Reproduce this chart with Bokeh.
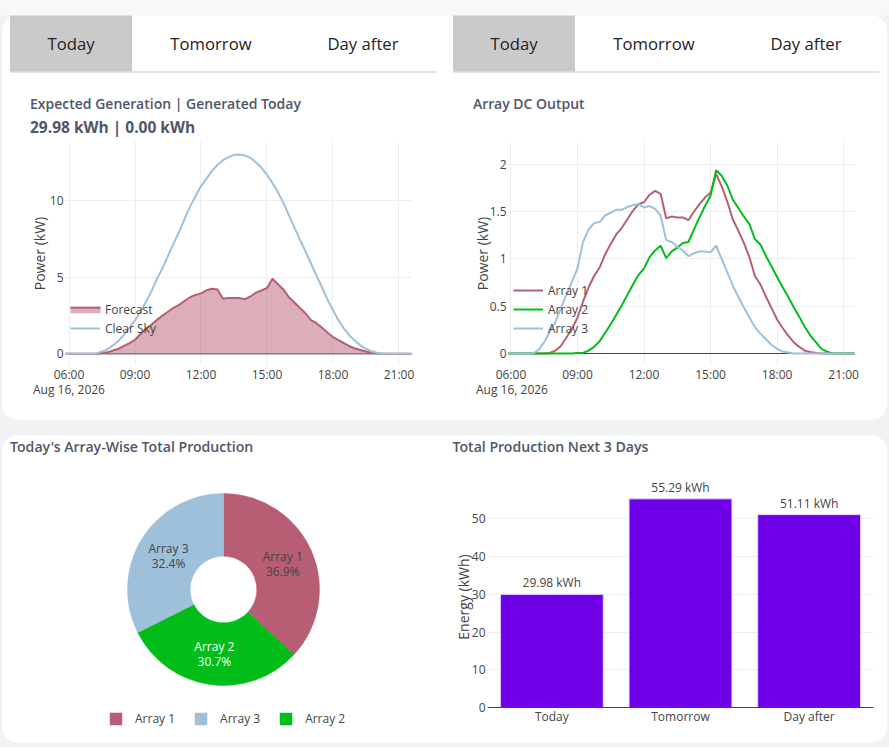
import numpy as np
from bokeh.core.properties import value
from bokeh.embed import file_html
from bokeh.models import (BoxAnnotation, ColumnDataSource, FactorRange, FixedTicker, Label, LabelSet, Legend,
                          LegendItem, Range1d, Span)
from bokeh.plotting import figure
from bokeh.resources import INLINE

# ---- data -----------------------------------------------------------------
START_HOUR = 5.75
STEP_HOUR = 0.25
TIME_TICKS = [6, 9, 12, 15, 18, 21]
TIME_LABELS = ["06:00", "09:00", "12:00", "15:00", "18:00", "21:00"]
DATE_LABEL = "Aug 16, 2026"

forecast = [0, 0, 0, 0, 0, 0,
            0.0, 0.05, 0.1, 0.22, 0.33, 0.52, 0.7, 0.92, 1.3, 1.65, 1.92, 2.22, 2.5, 2.75, 3.0, 3.2, 3.45, 3.7,
            3.85, 3.95, 4.15, 4.25, 4.2, 3.6, 3.65, 3.65, 3.65, 3.57, 3.75, 4.0, 4.15, 4.3, 4.9, 4.55, 4.2, 3.7,
            3.35, 3.0, 2.65, 2.2, 2.0, 1.7, 1.4, 1.1, 0.9, 0.7, 0.5, 0.35, 0.25, 0.15, 0.08, 0.04, 0.01, 0,
            0, 0, 0, 0, 0]
clear_sky = [0, 0, 0, 0, 0, 0,
             0.03, 0.15, 0.3, 0.55, 0.85, 1.25, 1.7, 2.2, 2.75, 3.4, 4.1, 4.9, 5.6, 6.4, 7.2, 7.95, 8.8, 9.6,
             10.3, 10.95, 11.45, 11.95, 12.35, 12.65, 12.85, 13.0, 13.02, 12.95, 12.8, 12.5, 12.15, 11.7, 11.15,
             10.55, 9.85, 9.05, 8.25, 7.45, 6.7, 5.9, 5.1, 4.35, 3.55, 2.85, 2.2, 1.65, 1.2, 0.85, 0.55, 0.33,
             0.17, 0.07, 0.01, 0, 0, 0, 0, 0, 0]
array_1 = [0, 0, 0, 0, 0, 0, 0,
           0.0, 0.005, 0.03, 0.08, 0.17, 0.26, 0.38, 0.55, 0.70, 0.82, 0.91, 1.05, 1.16, 1.26, 1.33, 1.42, 1.51,
           1.58, 1.60, 1.68, 1.72, 1.69, 1.43, 1.45, 1.44, 1.44, 1.41, 1.50, 1.58, 1.65, 1.70, 1.90, 1.77, 1.61,
           1.42, 1.30, 1.17, 1.02, 0.82, 0.73, 0.60, 0.48, 0.36, 0.27, 0.19, 0.12, 0.07, 0.03, 0.015, 0.005, 0,
           0, 0, 0, 0, 0, 0, 0]
array_2 = [0, 0, 0, 0, 0, 0, 0, 0, 0, 0, 0, 0, 0,
           0.005, 0.005, 0.03, 0.07, 0.13, 0.22, 0.31, 0.41, 0.51, 0.62, 0.73, 0.83, 0.90, 1.02, 1.09, 1.14, 1.01,
           1.08, 1.12, 1.17, 1.18, 1.31, 1.44, 1.56, 1.67, 1.94, 1.88, 1.78, 1.63, 1.54, 1.45, 1.37, 1.21, 1.15,
           1.03, 0.92, 0.81, 0.70, 0.60, 0.49, 0.39, 0.28, 0.19, 0.12, 0.05, 0.02, 0, 0, 0, 0, 0, 0]
array_3 = [0, 0, 0, 0, 0, 0,
           0.04, 0.12, 0.23, 0.33, 0.48, 0.62, 0.76, 0.90, 1.18, 1.31, 1.38, 1.39, 1.46, 1.49, 1.52, 1.52, 1.55,
           1.57, 1.58, 1.545, 1.56, 1.53, 1.46, 1.20, 1.18, 1.13, 1.09, 1.03, 1.06, 1.08, 1.08, 1.07, 1.14, 1.00,
           0.86, 0.72, 0.60, 0.49, 0.38, 0.28, 0.21, 0.15, 0.09, 0.05, 0.02, 0.01, 0, 0, 0, 0, 0, 0, 0, 0, 0, 0,
           0, 0, 0]

pie_names = ["Array 1", "Array 2", "Array 3"]
pie_shares = [36.9, 30.7, 32.4]
legend_order = ["Array 1", "Array 3", "Array 2"]

bar_days = ["Today", "Tomorrow", "Day after"]
bar_energy = [29.98, 55.29, 51.11]
bar_text = ["29.98 kWh", "55.29 kWh", "51.11 kWh"]

tabs = ["Today", "Tomorrow", "Day after"]

# ---- style ----------------------------------------------------------------
FONT = "Open Sans"
TEXT = "#444444"
TITLE = "#50566a"
GRID = "#eeeeee"
RED = "#b75e75"
GREEN = "#00bd1a"
BLUE = "#9fc0da"
PURPLE = "#6f00e8"
hours = np.arange(len(forecast)) * STEP_HOUR + START_HOUR


def place(left, top):
    return {"position": "absolute", "left": f"{left}px", "top": f"{top}px"}


# ---- background: page, cards, tabs, headings -------------------------------
bg = figure(width=890, height=748, x_range=Range1d(-0.5, 889.5), y_range=Range1d(748, 0),
            x_axis_type=None, y_axis_type=None, output_backend="svg", toolbar_location=None,
            min_border=0, outline_line_color=None, background_fill_color="#f0f2f4",
            border_fill_color="#f0f2f4", styles=place(-1, -1))


def box(left, right, top, bottom, color, radius=0):
    bg.add_layout(BoxAnnotation(left=left, right=right, top=top, bottom=bottom, fill_color=color,
                                fill_alpha=1, line_color=None, border_radius=radius, level="underlay"))


def text(x, y, s, size, color, weight="normal", align="left", family=FONT, angle=0):
    bg.add_layout(Label(x=x, y=y, text=s, text_font=family, text_font_size=f"{size}px", text_color=color,
                        text_font_style=weight, text_align=align, text_baseline="middle", angle=angle))


box(-0.5, 889.5, 0, 16, "#f6f8fa")
box(2, 887, 16, 420, "#ffffff", 15)
box(2, 887, 436, 743, "#ffffff", 15)
for off in (0, 443):
    box(10 + off, 132 + off, 16, 72, "#cacaca")
    box(10 + off, 437 + off - (1 if off else 0), 72, 73, "#cccccc")
    for cx, t in zip((71, 211, 363), tabs):
        text(cx + off, 44, t, 16.7, "#222222", align="center")
SEMI = "Open Sans SemiBold, Open Sans"
text(30, 104, "Expected Generation | Generated Today", 14, TITLE, family=SEMI)
text(30, 127, "29.98 kWh | 0.00 kWh", 15.5, TITLE, "bold")
text(473, 104, "Array DC Output", 14, TITLE, family=SEMI)
text(10, 447, "Today's Array-Wise Total Production", 14.1, TITLE, family=SEMI)
text(452.5, 447, "Total Production Next 3 Days", 14.1, TITLE, family=SEMI)
text(33, 390, DATE_LABEL, 12, TEXT)
text(476, 390, DATE_LABEL, 12, TEXT)
text(463.5, 597.5, "Energy (kWh)", 14, TEXT, align="center", angle=np.pi / 2)


def plain_axis(ax):
    ax.major_tick_line_color = None
    ax.minor_tick_line_color = None
    ax.major_tick_out = 0
    ax.major_tick_in = 0
    ax.minor_tick_out = 0
    ax.minor_tick_in = 0
    ax.major_label_text_font = FONT
    ax.major_label_text_font_size = "12px"
    ax.major_label_text_color = TEXT


# ---- line charts ------------------------------------------------------------
def line_chart(left, x_range, y_range, y_ticks, y_over, standoff):
    p = figure(width=420, height=270, x_range=x_range, y_range=y_range, output_backend="svg",
               toolbar_location=None, min_border_left=65, min_border_right=9, min_border_top=11,
               min_border_bottom=35, outline_line_color=None, background_fill_alpha=0, border_fill_alpha=0,
               styles=place(left, 130))
    p.xaxis.ticker = FixedTicker(ticks=TIME_TICKS)
    p.xaxis.major_label_overrides = dict(zip(TIME_TICKS, TIME_LABELS))
    p.yaxis.ticker = FixedTicker(ticks=y_ticks)
    p.yaxis.major_label_overrides = y_over
    for ax in (p.xaxis[0], p.yaxis[0]):
        ax.axis_line_color = None
        plain_axis(ax)
    p.xaxis.major_label_standoff = 0
    p.yaxis.major_label_standoff = 2
    p.yaxis.axis_label = "Power (kW)"
    p.yaxis.axis_label_text_font = FONT
    p.yaxis.axis_label_text_font_size = "14px"
    p.yaxis.axis_label_text_font_style = "normal"
    p.yaxis.axis_label_text_color = TEXT
    p.yaxis.axis_label_standoff = standoff
    p.grid.grid_line_color = GRID
    p.grid.grid_line_width = 1
    p.add_layout(Span(location=0, dimension="width", line_color="#444444", line_width=1, level="underlay"))
    return p


def legend_for(p, items, y):
    lg = Legend(items=items, location=(5, y), background_fill_alpha=0, border_line_color=None, padding=0,
                margin=0, spacing=1, glyph_width=30, glyph_height=18, label_standoff=5,
                label_text_font=FONT, label_text_font_size="12px", label_text_color=TEXT, label_height=18)
    p.add_layout(lg)


gen = line_chart(0, Range1d(5.84, 21.57), Range1d(-0.76, 13.87), [0, 5, 10], {0: "0", 5: "5", 10: "10"}, -2)
gen.varea(x=hours, y1=0, y2=forecast, fill_color=RED, fill_alpha=0.5)
gen.line(x=hours, y=forecast, line_color=RED, line_width=2)
cl = gen.line(x=hours, y=clear_sky, line_color=BLUE, line_width=2)
swatch = gen.line(x=[], y=[], line_alpha=0)
legend_for(gen, [LegendItem(label="Forecast", renderers=[swatch]), LegendItem(label="Clear Sky", renderers=[cl])], 28)
for lo, hi, alpha in ((52.3, 58.7, 0.5), (56.7, 58.7, 1)):
    gen.add_layout(BoxAnnotation(left=5, right=35, bottom=lo, top=hi, left_units="screen", right_units="screen",
                                 top_units="screen", bottom_units="screen", fill_color=RED, fill_alpha=alpha,
                                 line_color=None))

dc = line_chart(443, Range1d(5.89, 21.49), Range1d(-0.127, 2.243), [0, 0.5, 1, 1.5, 2],
                {0: "0", 0.5: "0.5", 1: "1", 1.5: "1.5", 2: "2"}, -5)
r1 = dc.line(x=hours, y=array_1, line_color=RED, line_width=2)
r2 = dc.line(x=hours, y=array_2, line_color=GREEN, line_width=2)
r3 = dc.line(x=hours, y=array_3, line_color=BLUE, line_width=2)
legend_for(dc, [LegendItem(label="Array 1", renderers=[r1]), LegendItem(label="Array 2", renderers=[r2]),
                LegendItem(label="Array 3", renderers=[r3])], 28)

# ---- donut ------------------------------------------------------------------
shares = np.array(pie_shares) / sum(pie_shares)
cum = np.concatenate([[0], np.cumsum(shares)])
start = np.pi / 2 - cum[:-1] * 2 * np.pi
end = np.pi / 2 - cum[1:] * 2 * np.pi
mid = (start + end) / 2
OUTER, INNER = 96, 33.3
label_r = (OUTER + INNER) / 2
pie_colors = [RED, GREEN, BLUE]
pie_text_colors = [TEXT, "#ffffff", TEXT]
src = ColumnDataSource(dict(name=pie_names, start=start, end=end, color=pie_colors, tc=pie_text_colors,
                            x=label_r * np.cos(mid), y=label_r * np.sin(mid),
                            pct=[f"{v:.1f}%" for v in pie_shares]))
pie = figure(width=300, height=265, x_range=Range1d(-150, 150), y_range=Range1d(-146, 119), x_axis_type=None,
             y_axis_type=None, output_backend="svg", toolbar_location=None, min_border=0,
             outline_line_color=None, background_fill_alpha=0, border_fill_alpha=0, styles=place(72.5, 470))
w = pie.annular_wedge(x=0, y=0, inner_radius=INNER, outer_radius=OUTER, start_angle="start", end_angle="end",
                      direction="clock", fill_color="color", line_color="color", line_width=0.5, source=src)
pie.text(x="x", y="y", text="name", text_color="tc", text_font=value(FONT), text_font_size="12px", text_align="center",
         text_baseline="middle", y_offset=-7.5, source=src)
pie.text(x="x", y="y", text="pct", text_color="tc", text_font=value(FONT), text_font_size="12px", text_align="center",
         text_baseline="middle", y_offset=7.5, source=src)
pie.add_layout(Legend(items=[LegendItem(label=n, renderers=[w], index=pie_names.index(n)) for n in legend_order],
                      orientation="horizontal", location=(35.5, 8), background_fill_alpha=0, border_line_color=None,
                      padding=0, margin=0, spacing=18, glyph_width=15, glyph_height=15, label_standoff=12,
                      label_text_font=FONT, label_text_font_size="12px", label_text_color=TEXT))

# ---- bars -------------------------------------------------------------------
bars = figure(width=439, height=270, x_range=FactorRange(*bar_days, range_padding=0, factor_padding=0),
              y_range=Range1d(0, 62.8), output_backend="svg", toolbar_location=None, min_border_left=43,
              min_border_right=10, min_border_top=0, min_border_bottom=33, outline_line_color=None,
              background_fill_alpha=0, border_fill_alpha=0, styles=place(444, 470))
bsrc = ColumnDataSource(dict(day=bar_days, value=bar_energy, label=bar_text))
bars.vbar(x="day", top="value", width=0.8, fill_color=PURPLE, line_color="#e6d9fb", line_width=1, source=bsrc)
bars.add_layout(LabelSet(x="day", y="value", text="label", text_font=value(FONT), text_font_size="12px",
                         text_color=TEXT, text_align="center", text_baseline="bottom", y_offset=3, source=bsrc))
bars.xgrid.visible = False
bars.ygrid.grid_line_color = GRID
bars.yaxis.ticker = FixedTicker(ticks=[0, 10, 20, 30, 40, 50])
for ax in (bars.xaxis[0], bars.yaxis[0]):
    plain_axis(ax)
bars.yaxis.axis_line_color = None
bars.xaxis.axis_line_color = "#444444"
bars.xaxis.major_label_standoff = 0
bars.yaxis.major_label_standoff = 2

open("out.html", "w").write(file_html([bg, gen, dc, pie, bars], INLINE))
